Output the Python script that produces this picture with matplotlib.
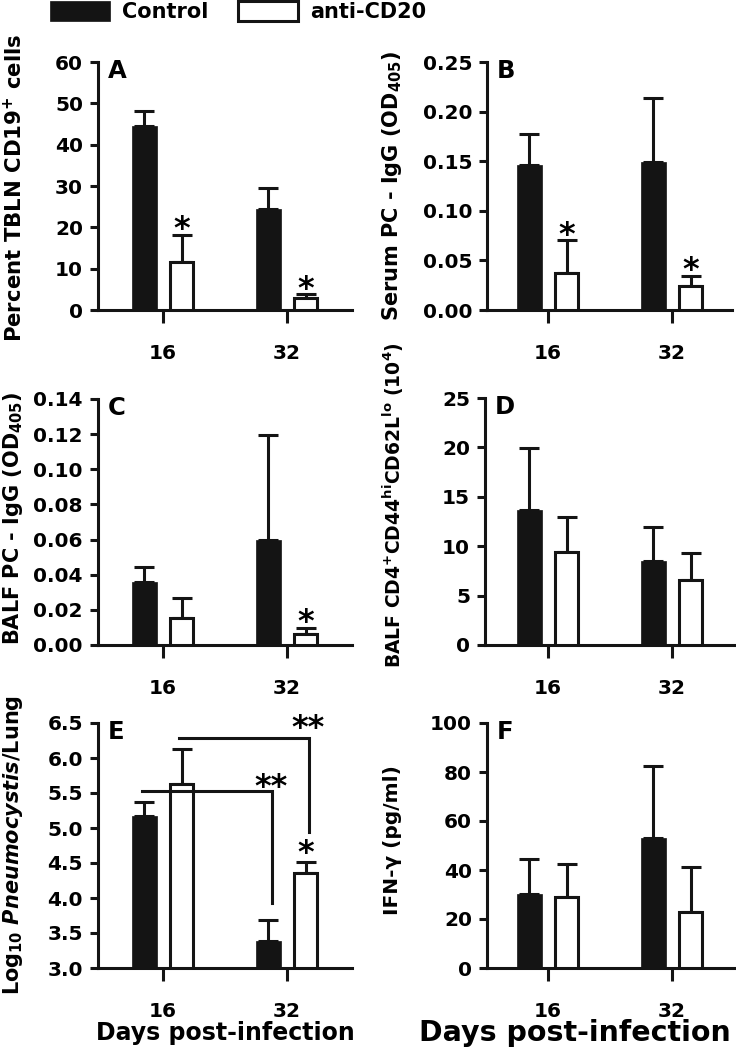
import matplotlib
matplotlib.use('Agg')
import matplotlib.pyplot as plt
from matplotlib.patches import Patch
from matplotlib.ticker import FormatStrFormatter
import numpy as np

plt.rcParams['font.family'] = ['DejaVu Sans']
plt.rcParams['font.weight'] = 'bold'
plt.rcParams['mathtext.fontset'] = 'custom'
plt.rcParams['mathtext.rm'] = 'DejaVu Sans:bold'
plt.rcParams['mathtext.bf'] = 'DejaVu Sans:bold'
plt.rcParams['mathtext.it'] = 'DejaVu Sans:bold:italic'
plt.rcParams['mathtext.default'] = 'bf'

# ---------------- data ----------------
days = ['16', '32']
groups = ['Control', 'anti-CD20']

a_ctrl = [44.5, 24.4]
a_ctrl_sem = [3.6, 5.1]
a_anti = [11.6, 2.9]
a_anti_sem = [6.5, 1.0]

b_ctrl = [0.146, 0.149]
b_ctrl_sem = [0.031, 0.065]
b_anti = [0.037, 0.024]
b_anti_sem = [0.034, 0.010]

c_ctrl = [0.036, 0.060]
c_ctrl_sem = [0.0085, 0.0595]
c_anti = [0.0155, 0.0065]
c_anti_sem = [0.0115, 0.003]

d_ctrl = [13.7, 8.5]
d_ctrl_sem = [6.2, 3.4]
d_anti = [9.4, 6.6]
d_anti_sem = [3.55, 2.7]

e_ctrl = [5.17, 3.39]
e_ctrl_sem = [0.20, 0.29]
e_anti = [5.63, 4.36]
e_anti_sem = [0.50, 0.15]

f_ctrl = [30.2, 53.0]
f_ctrl_sem = [14.3, 29.5]
f_anti = [29.0, 22.9]
f_anti_sem = [13.4, 18.3]

# significance stars: (group index 0=ctrl/1=anti, day index, y, text)
stars_a = [(1, 0, 21.3, '*'), (1, 1, 6.8, '*')]
stars_b = [(1, 0, 0.083, '*'), (1, 1, 0.048, '*')]
stars_c = [(1, 1, 0.0171, '*')]
stars_e = [(1, 1, 4.74, '*')]
# E brackets: (group, y_level, y_end, label_y)
brackets_e = [(0, 5.53, 3.93, 5.69), (1, 6.29, 4.95, 6.53)]

# ---------------- figure ----------------
W, H = 736, 1050
fig = plt.figure(figsize=(W / 100, H / 100), dpi=100)
BLACK = '#141414'
LW = 2.2
OFF = 0.15
STAR_FS = 23
STAR_SHIFT = -0.24 * STAR_FS


def make_ax(x0, x1, ytop, ybot, t16, t32):
    ax = fig.add_axes([x0 / W, 1 - ybot / H, (x1 - x0) / W, (ybot - ytop) / H])
    sp = t32 - t16
    ax.set_xlim((x0 - t16) / sp, (x1 - t16) / sp)
    return ax


def draw(ax, ctrl, ctrl_sem, anti, anti_sem, ylim, step, fmt, letter, base=0.0):
    xs = np.arange(len(days))
    ctrl = np.asarray(ctrl)
    anti = np.asarray(anti)
    ax.bar(xs - OFF, ctrl - base, bottom=base, width=0.205, color=BLACK,
           edgecolor=BLACK, linewidth=0.5, zorder=3)
    ax.bar(xs + OFF, anti - base, bottom=base, width=0.18, facecolor='white',
           edgecolor=BLACK, linewidth=LW, zorder=3)
    ax.errorbar(xs - OFF, ctrl, yerr=[np.zeros(len(xs)), ctrl_sem], fmt='none',
                ecolor=BLACK, elinewidth=LW, capsize=7, capthick=LW, zorder=2,
                clip_on=False)
    ax.errorbar(xs + OFF, anti, yerr=[np.zeros(len(xs)), anti_sem], fmt='none',
                ecolor=BLACK, elinewidth=LW, capsize=7, capthick=LW, zorder=2,
                clip_on=False)
    ax.set_ylim(*ylim)
    ax.set_yticks(np.arange(ylim[0], ylim[1] + step / 2, step))
    ax.yaxis.set_major_formatter(FormatStrFormatter(fmt))
    ax.set_xticks(xs)
    ax.set_xticklabels(days)
    for s in ['top', 'right']:
        ax.spines[s].set_visible(False)
    for s in ['left', 'bottom']:
        ax.spines[s].set_linewidth(LW)
        ax.spines[s].set_color(BLACK)
    ax.tick_params(axis='x', length=9.4, width=LW, pad=15, labelsize=14.5,
                   color=BLACK)
    ax.tick_params(axis='y', length=5.8, width=LW, pad=5, labelsize=14.5,
                   color=BLACK)
    ax.patch.set_visible(False)
    ax.annotate(letter, xy=(0, 1), xycoords='axes fraction', xytext=(7, 2),
                textcoords='offset points', ha='left', va='top', fontsize=17.5,
                fontweight='bold')
    return xs


def add_stars(ax, stars):
    for g, d, y, txt in stars:
        x = d + (OFF if g == 1 else -OFF)
        ax.annotate(txt, xy=(x, y), xytext=(0, STAR_SHIFT),
                    textcoords='offset points', ha='center', va='center',
                    fontsize=STAR_FS, fontweight='bold', annotation_clip=False)


axA = make_ax(98, 352, 62, 310, 163, 287)
draw(axA, a_ctrl, a_ctrl_sem, a_anti, a_anti_sem, (0, 60), 10, '%d', 'A')
add_stars(axA, stars_a)

axB = make_ax(487, 732, 62, 310, 548, 672)
draw(axB, b_ctrl, b_ctrl_sem, b_anti, b_anti_sem, (0, 0.25), 0.05, '%.2f', 'B')
add_stars(axB, stars_b)

axC = make_ax(98, 352, 399, 645, 163, 287)
draw(axC, c_ctrl, c_ctrl_sem, c_anti, c_anti_sem, (0, 0.14), 0.02, '%.2f', 'C')
add_stars(axC, stars_c)

axD = make_ax(485, 735, 398, 645, 548, 672)
draw(axD, d_ctrl, d_ctrl_sem, d_anti, d_anti_sem, (0, 25), 5, '%d', 'D')

axE = make_ax(98, 352, 723, 968, 163, 287)
draw(axE, e_ctrl, e_ctrl_sem, e_anti, e_anti_sem, (3.0, 6.5), 0.5, '%.1f', 'E',
     base=3.0)
add_stars(axE, stars_e)
for g, ylev, yend, ylab in brackets_e:
    sgn = OFF if g == 1 else -OFF
    xa = 0 + sgn - 0.02
    xb = 1 + sgn + 0.03
    axE.plot([xa, xb, xb], [ylev, ylev, yend], color=BLACK, lw=LW,
             solid_joinstyle='miter', zorder=5, clip_on=False)
    axE.annotate('**', xy=(xb, ylab), xytext=(-1, STAR_SHIFT),
                 textcoords='offset points', ha='center', va='center',
                 fontsize=STAR_FS, fontweight='bold', annotation_clip=False)

axF = make_ax(487, 735, 723, 968, 548, 672)
draw(axF, f_ctrl, f_ctrl_sem, f_anti, f_anti_sem, (0, 100), 20, '%d', 'F')

# y labels
ylabels = [
    (14, 188, 'Percent TBLN CD19$^{+}$ cells', 15.3),
    (392, 186, 'Serum PC - IgG (OD$_{405}$)', 15),
    (13, 518, 'BALF PC - IgG (OD$_{405}$)', 15),
    (393, 505, 'BALF CD4$^{+}$CD44$^{hi}$CD62L$^{lo}$ (10$^{4}$)', 13.5),
    (13, 845, 'Log$_{10}$ $\\mathit{Pneumocystis}$/Lung', 15),
    (392, 840, 'IFN-γ (pg/ml)', 14.5),
]
for x, y, t, fs in ylabels:
    fig.text(x / W, 1 - y / H, t, rotation=90, ha='center', va='center',
             fontsize=fs, fontweight='bold')

# x labels
fig.text(225 / W, 1 - 1040 / H, 'Days post-infection', ha='center',
         va='baseline', fontsize=17, fontweight='bold')
fig.text(575 / W, 1 - 1041 / H, 'Days post-infection', ha='center',
         va='baseline', fontsize=20.5, fontweight='bold')

# legend
handles = [Patch(facecolor=BLACK, edgecolor=BLACK, linewidth=0.5),
           Patch(facecolor='white', edgecolor=BLACK, linewidth=LW)]
fig.legend(handles=handles, labels=groups, ncol=2, frameon=False,
           loc='upper left', bbox_to_anchor=(50 / W, 1 - 1 / H), fontsize=15,
           handlelength=2.88, handleheight=1.12, handletextpad=0.58,
           columnspacing=1.44, borderpad=0, borderaxespad=0)

fig.savefig('out.png', dpi=100, facecolor='white')
